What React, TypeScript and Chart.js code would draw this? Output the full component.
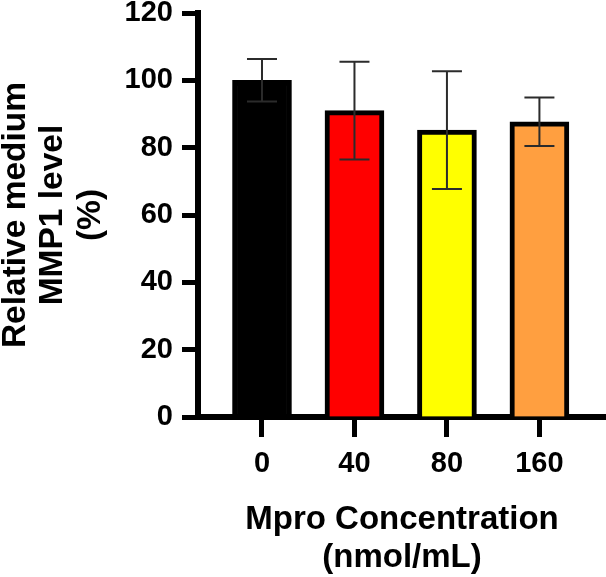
import React, { useEffect, useRef } from "react";
import { Chart, registerables } from "chart.js";

Chart.register(...registerables);

const categories = ["0", "40", "80", "160"];
const means = [100, 91, 85.2, 87.7];
const errors = [6.3, 14.5, 17.5, 7.2];
const barColors = ["#000000", "#FF0000", "#FFFF00", "#FF9F40"];
const yTicks = [0, 20, 40, 60, 80, 100, 120];

const FONT = "'Liberation Sans', Arial, Helvetica, sans-serif";

const errorBarPlugin = {
  id: "errorBars",
  afterDatasetsDraw(chart: any) {
    const ctx = chart.ctx;
    const xs = chart.scales.x;
    const ys = chart.scales.y;
    ctx.save();
    ctx.strokeStyle = "#2b2b2b";
    ctx.lineWidth = 2;
    means.forEach((m, i) => {
      const x = xs.getPixelForValue(i);
      const yHi = ys.getPixelForValue(m + errors[i]);
      const yLo = ys.getPixelForValue(m - errors[i]);
      const half = 15;
      ctx.beginPath();
      ctx.moveTo(x, yHi);
      ctx.lineTo(x, yLo);
      ctx.moveTo(x - half, yHi);
      ctx.lineTo(x + half, yHi);
      ctx.moveTo(x - half, yLo);
      ctx.lineTo(x + half, yLo);
      ctx.stroke();
    });
    ctx.restore();
  },
};

export default function App() {
  const ref = useRef<HTMLCanvasElement | null>(null);

  useEffect(() => {
    if (!ref.current) return;
    const chart = new Chart(ref.current, {
      type: "bar",
      data: {
        datasets: [
          {
            data: means.map((v, i) => ({ x: i, y: v })),
            backgroundColor: barColors,
            borderColor: "#000000",
            borderWidth: 5,
            barThickness: 59,
            borderSkipped: "bottom",
          } as any,
        ],
      },
      options: {
        animation: false,
        responsive: false,
        maintainAspectRatio: false,
        devicePixelRatio: 1,
        layout: { padding: { top: 13, left: 0, right: 0, bottom: 0 } },
        plugins: {
          legend: { display: false },
          tooltip: { enabled: false },
        },
        scales: {
          x: {
            type: "linear",
            offset: false,
            min: -0.692,
            max: 3.72,
            afterBuildTicks: (scale: any) => {
              scale.ticks = categories.map((_, i) => ({ value: i }));
            },
            afterFit: (scale: any) => {
              scale.height = 160;
            },
            grid: {
              display: true,
              offset: false,
              drawOnChartArea: false,
              drawTicks: true,
              tickLength: 20,
              tickWidth: 5,
              tickColor: "#000000",
            },
            border: { display: true, width: 6, color: "#000000" },
            ticks: {
              padding: 10,
              color: "#000000",
              font: { family: FONT, size: 29, weight: "bold" },
              callback: (v: any) => categories[Math.round(Number(v))],
              maxRotation: 0,
              autoSkip: false,
            },
            title: {
              display: true,
              text: ["Mpro Concentration", "(nmol/mL)"],
              color: "#000000",
              font: { family: FONT, size: 33, weight: "bold", lineHeight: 38 / 33 },
              padding: { top: 0, bottom: 0 },
            },
          },
          y: {
            type: "linear",
            min: 0,
            max: 120,
            afterBuildTicks: (scale: any) => {
              scale.ticks = yTicks.map((v) => ({ value: v }));
            },
            afterFit: (scale: any) => {
              scale.width = 198;
            },
            grid: {
              display: true,
              drawOnChartArea: false,
              drawTicks: true,
              tickLength: 16,
              tickWidth: 5,
              tickColor: "#000000",
            },
            border: { display: true, width: 6, color: "#000000" },
            ticks: {
              padding: 9,
              autoSkip: false,
              color: "#000000",
              font: { family: FONT, size: 29, weight: "bold", lineHeight: 0.2 },
            },
            title: {
              display: true,
              text: ["Relative medium", "MMP1 level", "(%)"],
              color: "#000000",
              font: { family: FONT, size: 33.5, weight: "bold", lineHeight: 37.5 / 33.5 },
              padding: { top: -3, bottom: 0 },
            },
          },
        },
      } as any,
      plugins: [errorBarPlugin],
    });
    return () => chart.destroy();
  }, []);

  return (
    <div style={{ position: "fixed", left: 0, top: 0, width: 606, height: 577, background: "#fff" }}>
      <canvas ref={ref} width={606} height={577} style={{ display: "block" }} />
    </div>
  );
}
